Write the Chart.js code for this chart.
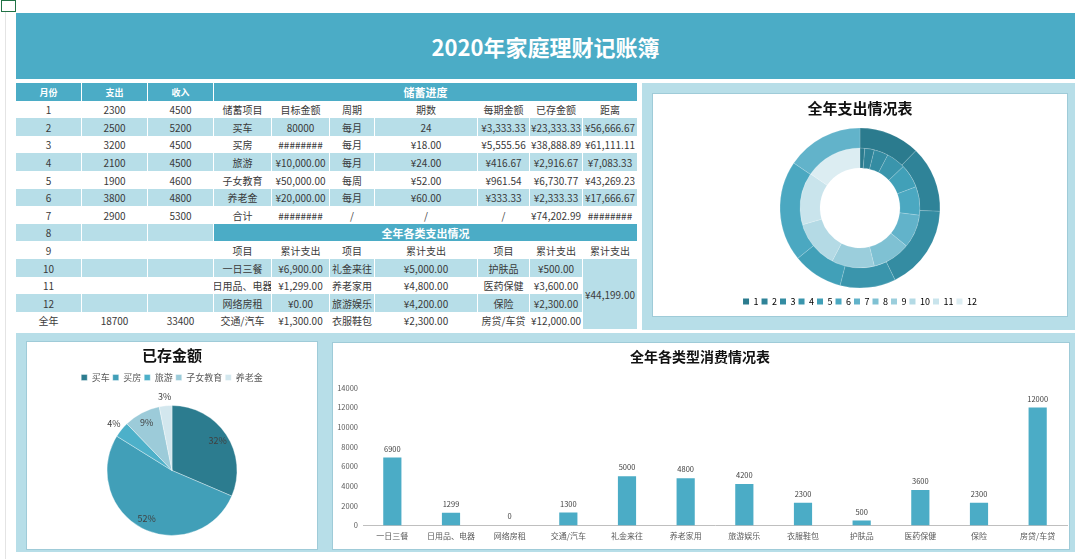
<!DOCTYPE html>
<html>
<head>
<meta charset="utf-8">
<script src="https://cdn.jsdelivr.net/npm/chart.js@4.4.0/dist/chart.umd.min.js"></script>
<style>
    body { margin: 0; width: 1080px; height: 559px; position: relative; overflow: hidden; background: #fff;
           font-family: "Noto Sans CJK SC", "Noto Sans", sans-serif; }
    .abs { position: absolute; box-sizing: border-box; }
    .cell { position: absolute; box-sizing: border-box; display: flex; align-items: center; justify-content: center;
            font-size: 10px; color: #3a3a3a; border-right: 1px solid #fff; white-space: nowrap; overflow: hidden; }
    .head { color: #fff; font-weight: bold; font-size: 9px; }
    .sect { color: #fff; font-weight: bold; font-size: 11px; }
    .box { position: absolute; background: #fff; border: 1px solid #9fcbd8; box-sizing: border-box; }
    canvas { display: block; }
</style>
</head>
<body>
<div class="abs" style="left:1px;top:0;width:15px;height:12px;border:1px solid #217346;"></div>
<div class="abs" style="left:5px;top:12px;width:1px;height:547px;background:#e4e4e4;"></div>
<div class="abs" style="left:16px;top:13px;width:1059px;height:66px;background:#4bacc6;display:flex;align-items:center;justify-content:center;color:#fff;font-weight:bold;font-size:22px;">2020年家庭理财记账簿</div>
<div class="abs" style="left:642px;top:83px;width:433px;height:247px;background:#b7dee8;"></div>
<div class="abs" style="left:16px;top:333px;width:1059px;height:219px;background:#b7dee8;"></div>
<div id="table"></div>
<div class="box" style="left:652px;top:93px;width:416px;height:224px;"><canvas id="ringChart"></canvas></div>
<div class="box" style="left:26px;top:341px;width:292px;height:209px;"><canvas id="savedChart"></canvas></div>
<div class="box" style="left:332px;top:342px;width:738px;height:208px;"><canvas id="typeChart"></canvas></div>

<script>
// monthly records (months 8-12 have no entries yet)
const months = ['1', '2', '3', '4', '5', '6', '7', '8', '9', '10', '11', '12'];
const monthNums = [1, 2, 3, 4, 5, 6, 7, 8, 9, 10, 11, 12];
const monthSpend = [2300, 2500, 3200, 2100, 1900, 3800, 2900, null, null, null, null, null];
const monthIncome = [4500, 5200, 4500, 4500, 4600, 4800, 5300, null, null, null, null, null];

// savings plan
const saveItems = ['买车', '买房', '旅游', '子女教育', '养老金'];
const saveTargets = ['80000', '########', '¥10,000.00', '¥50,000.00', '¥20,000.00'];
const savePeriods = ['每月', '每月', '每月', '每周', '每月'];
const saveCounts = ['24', '¥18.00', '¥24.00', '¥52.00', '¥60.00'];
const savePerPeriod = [3333.33, 5555.56, 416.67, 961.54, 333.33];
const saveSaved = [23333.33, 38888.89, 2916.67, 6730.77, 2333.33];
const saveRemain = [56666.67, 61111.11, 7083.33, 43269.23, 17666.67];

// yearly spending by type
const typeNames = ['一日三餐', '日用品、电器', '网络房租', '交通/汽车', '礼金来往', '养老家用',
                   '旅游娱乐', '衣服鞋包', '护肤品', '医药保健', '保险', '房贷/车贷'];
const typeValues = [6900, 1299, 0, 1300, 5000, 4800, 4200, 2300, 500, 3600, 2300, 12000];

const TEAL = '#4bacc6';
const LIGHT = '#b7dee8';
const ringColors = ['#2b7b8e', '#2f8398', '#348ca2', '#3a95ac', '#41a0b8', '#4ba8c1',
                    '#62b3ca', '#7fc1d3', '#9bcedc', '#b4dae5', '#c9e4ec', '#dcedf2'];
const pieColors = ['#2c7c8f', '#419fb8', '#4db0c9', '#9ccbd9', '#d3e7ee'];

const sum = arr => arr.reduce((t, v) => t + (v || 0), 0);
const money = n => '¥' + n.toLocaleString('en-US', { minimumFractionDigits: 2, maximumFractionDigits: 2 });

// ---------- table ----------
const colX = [16, 82, 148, 214, 272, 330, 375, 478, 530, 583, 638];
const rowY = i => Math.round(83 + i * 17.6);
const table = document.getElementById('table');

function cell(c0, c1, r0, r1, text, bg, cls) {
    const d = document.createElement('div');
    d.className = 'cell' + (cls ? ' ' + cls : '');
    d.style.left = colX[c0] + 'px';
    d.style.width = (colX[c1] - colX[c0]) + 'px';
    d.style.top = rowY(r0) + 'px';
    d.style.height = (rowY(r1) - rowY(r0)) + 'px';
    d.style.background = bg;
    d.textContent = text;
    table.appendChild(d);
}
const stripe = r => (r % 2 === 0 ? LIGHT : '#fff');

// header row
['月份', '支出', '收入'].forEach((t, i) => cell(i, i + 1, 0, 1, t, TEAL, 'head'));
cell(3, 10, 0, 1, '储蓄进度', TEAL, 'sect');

// month columns
for (let r = 1; r <= 13; r++) {
    const i = r - 1;
    const bg = stripe(r);
    cell(0, 1, r, r + 1, r === 13 ? '全年' : months[i], bg);
    cell(1, 2, r, r + 1, r === 13 ? sum(monthSpend) : (monthSpend[i] ?? ''), bg);
    cell(2, 3, r, r + 1, r === 13 ? sum(monthIncome) : (monthIncome[i] ?? ''), bg);
}

// savings block
['储蓄项目', '目标金额', '周期', '期数', '每期金额', '已存金额', '距离'].forEach((t, i) => cell(3 + i, 4 + i, 1, 2, t, stripe(1)));
saveItems.forEach((name, i) => {
    const r = i + 2, bg = stripe(r);
    const vals = [name, saveTargets[i], savePeriods[i], saveCounts[i], money(savePerPeriod[i]), money(saveSaved[i]), money(saveRemain[i])];
    vals.forEach((t, c) => cell(3 + c, 4 + c, r, r + 1, t, bg));
});
['合计', '########', '/', '/', '/', money(sum(saveSaved)), '########'].forEach((t, c) => cell(3 + c, 4 + c, 7, 8, t, stripe(7)));

// spending by type block
cell(3, 10, 8, 9, '全年各类支出情况', TEAL, 'sect');
['项目', '累计支出', '项目', '累计支出', '项目', '累计支出', '累计支出'].forEach((t, c) => cell(3 + c, 4 + c, 9, 10, t, stripe(9)));
for (let k = 0; k < 4; k++) {
    const r = 10 + k, bg = stripe(r);
    for (let g = 0; g < 3; g++) {
        const idx = g * 4 + k;
        cell(3 + g * 2, 4 + g * 2, r, r + 1, typeNames[idx], bg);
        cell(4 + g * 2, 5 + g * 2, r, r + 1, money(typeValues[idx]), bg);
    }
}
cell(9, 10, 10, 14, money(sum(typeValues)), LIGHT);

// ---------- charts ----------
Chart.defaults.font.family = '"Noto Sans CJK SC", "Noto Sans", sans-serif';
Chart.defaults.color = '#595959';
Chart.defaults.animation = false;

function sizeCanvas(id, w, h) {
    const c = document.getElementById(id);
    c.width = w; c.height = h;
    c.style.width = w + 'px'; c.style.height = h + 'px';
    return c;
}

// largest remainder rounding, like the spreadsheet labels
function roundPercents(vals) {
    const total = sum(vals);
    const raw = vals.map(v => v / total * 100);
    const out = raw.map(Math.floor);
    let left = 100 - sum(out);
    raw.map((v, i) => [v - Math.floor(v), i]).sort((a, b) => b[0] - a[0]).forEach(([, i]) => {
        if (left > 0) { out[i]++; left--; }
    });
    return out;
}

new Chart(sizeCanvas('ringChart', 414, 222), {
    type: 'doughnut',
    data: {
        labels: months,
        datasets: [
            { label: '支出', data: monthSpend, backgroundColor: ringColors, borderColor: 'rgba(255,255,255,0.3)', borderWidth: 0.5 },
            { label: '月份', data: monthNums, backgroundColor: ringColors, borderColor: 'rgba(255,255,255,0.3)', borderWidth: 0.5 }
        ]
    },
    options: {
        responsive: false,
        radius: 80,
        cutout: '50%',
        layout: { padding: { top: 0, bottom: 0 } },
        plugins: {
            title: { display: true, text: '全年支出情况表', color: '#111', font: { size: 15, weight: 'bold' }, padding: { top: 5, bottom: 5 } },
            legend: {
                position: 'bottom',
                labels: {
                    boxWidth: 6, boxHeight: 6, padding: 3, font: { size: 9 }, color: '#595959',
                    generateLabels: chart => chart.data.labels.map((t, i) => ({
                        text: t, fillStyle: ringColors[i], strokeStyle: ringColors[i], lineWidth: 0, index: i, hidden: false
                    }))
                }
            },
            tooltip: { enabled: false }
        }
    }
});

const pieLabels = {
    id: 'pieLabels',
    afterDatasetsDraw(chart) {
        const ctx = chart.ctx;
        const meta = chart.getDatasetMeta(0);
        const pcts = roundPercents(chart.data.datasets[0].data);
        ctx.save();
        ctx.font = '9px "Noto Sans CJK SC"';
        ctx.fillStyle = '#404040';
        ctx.textAlign = 'center';
        ctx.textBaseline = 'middle';
        meta.data.forEach((arc, i) => {
            const p = arc.getProps(['x', 'y', 'startAngle', 'endAngle', 'outerRadius'], true);
            const a = (p.startAngle + p.endAngle) / 2;
            const r = pcts[i] < 5 ? p.outerRadius * 1.15 : p.outerRadius * 0.84;
            ctx.fillText(pcts[i] + '%', p.x + Math.cos(a) * r, p.y + Math.sin(a) * r);
        });
        ctx.restore();
    }
};

new Chart(sizeCanvas('savedChart', 290, 207), {
    type: 'pie',
    data: {
        labels: saveItems,
        datasets: [{ label: '已存金额', data: saveSaved, backgroundColor: pieColors, borderColor: 'rgba(255,255,255,0.6)', borderWidth: 0.6 }]
    },
    options: {
        responsive: false,
        radius: 65,
        layout: { padding: { bottom: 0 } },
        plugins: {
            title: { display: true, text: '已存金额', color: '#111', font: { size: 15, weight: 'bold' }, padding: { top: 4, bottom: 6 } },
            legend: {
                position: 'top',
                labels: { boxWidth: 6, boxHeight: 6, padding: 3, font: { size: 9 }, color: '#595959' }
            },
            tooltip: { enabled: false }
        }
    },
    plugins: [pieLabels]
});

const barLabels = {
    id: 'barLabels',
    afterDatasetsDraw(chart) {
        const ctx = chart.ctx;
        const meta = chart.getDatasetMeta(0);
        const data = chart.data.datasets[0].data;
        ctx.save();
        ctx.font = '7.5px "Noto Sans CJK SC"';
        ctx.fillStyle = '#404040';
        ctx.textAlign = 'center';
        ctx.textBaseline = 'bottom';
        meta.data.forEach((bar, i) => {
            ctx.fillText(String(data[i]), bar.x, bar.y - 5);
        });
        ctx.restore();
    }
};

new Chart(sizeCanvas('typeChart', 736, 206), {
    type: 'bar',
    data: {
        labels: typeNames,
        datasets: [{ label: '累计支出', data: typeValues, backgroundColor: TEAL, categoryPercentage: 1, barPercentage: 0.31 }]
    },
    options: {
        responsive: false,
        layout: { padding: { left: 0, right: 2, bottom: 2 } },
        scales: {
            x: {
                grid: { display: false, drawTicks: false },
                border: { color: '#bfbfbf' },
                ticks: { font: { size: 8 }, color: '#595959', maxRotation: 0, autoSkip: false, padding: 6 }
            },
            y: {
                min: 0, max: 14000,
                grid: { display: false, drawTicks: false },
                border: { display: false },
                ticks: { stepSize: 2000, font: { size: 7.5 }, color: '#595959', padding: 5, callback: v => String(v) },
                afterFit(scale) { scale.width = 30; }
            }
        },
        plugins: {
            title: { display: true, text: '全年各类型消费情况表', color: '#111', font: { size: 14, weight: 'bold' }, padding: { top: 5, bottom: 23 } },
            legend: { display: false },
            tooltip: { enabled: false }
        }
    },
    plugins: [barLabels]
});
</script>
</body>
</html>
